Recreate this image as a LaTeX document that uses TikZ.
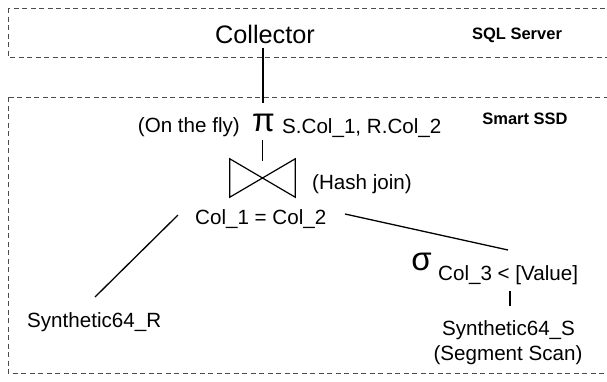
\documentclass[tikz,border=0pt]{standalone}
\usepackage{fontspec}
\setmainfont{Liberation Sans}
\begin{document}
\begin{tikzpicture}[x=1pt,y=-1pt,
  region/.style={draw=black!70, line width=1pt, dash pattern=on 5pt off 3.5pt},
  txt/.style={inner sep=0pt, anchor=base, font=\fontsize{20.6}{23}\selectfont},
  big/.style={inner sep=0pt, anchor=base, font=\fontsize{25.3}{28}\selectfont},
  lbl/.style={inner sep=0pt, anchor=base, font=\bfseries\fontsize{16.5}{18}\selectfont},
  greek/.style={inner sep=0pt, font=\fontsize{33}{35}\selectfont},
  edge/.style={draw=black, line width=1.3pt},
  bow/.style={draw=black, line width=1.2pt}]
\useasboundingbox (0,0) rectangle (607,381);
\begin{scope}
\clip (0,0) rectangle (607,381);
\draw[region] (8,8) rectangle (640,57);
\draw[region] (8,97) rectangle (640,373);
\end{scope}
\node[big] (coll) at (265,43.5) {Collector};
\node[lbl] (sqls) at (517,39) {SQL Server};
\node[lbl] (ssd) at (525,124) {Smart SSD};
\node[greek] (pi) at (263.5,123) {π};
\node[txt, anchor=base east] (onfly) at (240,132) {(On the fly)};
\node[txt, anchor=base west] (proj) at (282,133) {S.Col\_1, R.Col\_2};
\node[minimum width=65pt, minimum height=38pt, inner sep=0pt] (join) at (262.5,178) {};
\draw[bow] (join.north west) -- (join.south east) -- (join.north east) -- (join.south west) -- cycle;
\node[txt, anchor=base west] (hash) at (312,189) {(Hash join)};
\node[txt, anchor=base west] (cond) at (195,224) {Col\_1 = Col\_2};
\node[txt, anchor=base west] (synr) at (27,327) {Synthetic64\_R};
\node[greek] (sigma) at (421.5,262) {σ};
\node[txt, anchor=base west] (subc) at (438,280) {Col\_3 < [Value]};
\node[txt] (syns) at (508.5,335) {Synthetic64\_S};
\node[txt] (seg) at (508,360) {(Segment Scan)};
\coordinate (colltail) at (263,48);
\coordinate (pitail) at (262.5,140);
\coordinate (jtop) at (262.5,161);
\coordinate (condl) at (178,215);
\coordinate (condr) at (345,214);
\coordinate (synrtop) at (95,297);
\coordinate (sigtop) at (508,250);
\coordinate (subbot) at (510,291);
\coordinate (synstop) at (510,306);
\draw[edge] (colltail) -- (263,103);
\draw[edge] (pitail) -- (jtop);
\draw[edge] (condl) -- (synrtop);
\draw[edge] (condr) -- (sigtop);
\draw[edge] (subbot) -- (synstop);
\end{tikzpicture}
\end{document}
